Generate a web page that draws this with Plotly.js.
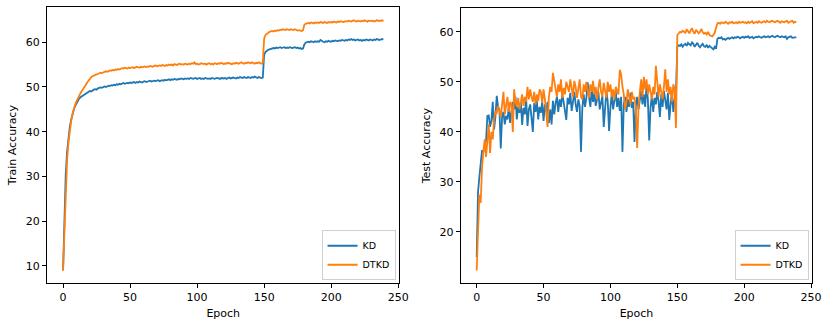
<!DOCTYPE html>
<html>
<head>
<meta charset="utf-8">
<script src="https://cdn.plot.ly/plotly-3.0.1.min.js"></script>
<style>
  html, body { margin: 0; padding: 0; background: #fff; }
  #myDiv { width: 831px; height: 327px; }
</style>
</head>
<body>
<div id="myDiv"></div>
<script>
// train accuracy per epoch (0..239)
var trainKD = [
  9.0, 22.0, 30.5, 35.5, 38.8, 41.0, 42.6, 43.9, 44.9, 45.7,
  46.4, 46.9, 47.4, 47.7, 47.9, 48.2, 48.3, 48.6, 48.8, 48.9,
  49.1, 49.0, 49.3, 49.4, 49.5, 49.4, 49.7, 49.8, 49.9, 49.8,
  50.0, 50.1, 50.0, 50.2, 50.3, 50.2, 50.4, 50.3, 50.5, 50.4,
  50.6, 50.5, 50.7, 50.6, 50.8, 50.9, 50.7, 50.8, 50.9, 50.8,
  51.0, 50.9, 51.0, 51.1, 50.9, 51.1, 51.0, 51.2, 51.1, 51.0,
  51.2, 51.3, 51.1, 51.2, 51.3, 51.4, 51.2, 51.3, 51.4, 51.3,
  51.4, 51.5, 51.3, 51.4, 51.5, 51.4, 51.6, 51.5, 51.6, 51.7,
  51.5, 51.7, 51.6, 51.8, 51.7, 51.6, 51.8, 51.7, 51.9, 51.8,
  51.7, 51.9, 51.8, 51.9, 51.8, 52.0, 51.9, 51.8, 51.9, 52.0,
  51.8, 51.9, 52.0, 51.8, 51.9, 51.8, 52.0, 51.9, 51.8, 51.9,
  51.8, 52.0, 51.9, 51.8, 51.9, 52.0, 51.9, 51.8, 52.0, 51.9,
  51.9, 52.0, 51.8, 52.0, 52.1, 51.9, 52.0, 52.1, 52.0, 51.9,
  52.1, 52.0, 52.2, 52.1, 52.0, 52.2, 52.1, 52.0, 52.2, 52.1,
  52.0, 52.2, 52.1, 52.3, 52.1, 52.0, 52.2, 52.1, 52.0, 52.1,
  57.2, 57.8, 58.1, 58.3, 58.4, 58.5, 58.6, 58.7, 58.6, 58.8,
  58.7, 58.8, 58.9, 58.7, 58.8, 58.9, 58.7, 58.8, 58.7, 58.9,
  58.8, 58.7, 58.8, 58.9, 58.7, 58.8, 58.6, 58.7, 58.5, 58.6,
  59.5, 59.9, 60.0, 60.1, 60.0, 60.2, 60.1, 60.0, 60.2, 60.1,
  60.2, 60.1, 60.5, 60.2, 60.1, 60.0, 60.2, 60.1, 60.3, 60.2,
  60.1, 60.3, 60.2, 60.4, 60.3, 60.2, 60.4, 60.3, 60.5, 60.4,
  60.3, 60.5, 60.4, 60.6, 60.5, 60.7, 60.5, 60.6, 60.4, 60.5,
  60.6, 60.4, 60.5, 60.3, 60.5, 60.4, 60.6, 60.5, 60.4, 60.6,
  60.5, 60.4, 60.6, 60.5, 60.7, 60.6, 60.5, 60.6, 60.7, 60.6
];

var trainDTKD = [
  9.0, 18.5, 27.5, 33.5, 37.5, 40.3, 42.3, 43.9, 45.1, 46.0,
  46.8, 47.5, 48.1, 48.6, 49.1, 49.5, 50.0, 50.5, 51.0, 51.5,
  51.9, 52.2, 52.4, 52.6, 52.7, 52.8, 52.9, 53.0, 53.2, 53.1,
  53.3, 53.4, 53.5, 53.4, 53.6, 53.7, 53.6, 53.8, 53.7, 53.9,
  53.8, 54.0, 53.9, 54.1, 54.2, 54.1, 54.3, 54.2, 54.1, 54.3,
  54.2, 54.3, 54.4, 54.2, 54.3, 54.5, 54.4, 54.3, 54.5, 54.4,
  54.5, 54.6, 54.4, 54.6, 54.5, 54.7, 54.6, 54.5, 54.7, 54.8,
  54.6, 54.7, 54.8, 54.7, 54.9, 54.8, 54.7, 54.9, 54.8, 55.0,
  54.9, 55.0, 54.8, 55.1, 55.0, 54.9, 55.1, 55.2, 55.0, 55.1,
  55.0, 55.2, 55.1, 55.0, 55.2, 55.1, 55.3, 55.2, 55.5, 55.1,
  55.2, 55.0, 55.1, 55.3, 55.2, 55.1, 55.2, 55.0, 55.2, 55.3,
  55.1, 55.2, 55.0, 55.3, 55.2, 55.1, 55.3, 55.2, 55.4, 55.2,
  55.1, 55.3, 55.2, 55.4, 55.3, 55.2, 55.1, 55.3, 55.2, 55.4,
  55.3, 55.2, 55.4, 55.5, 55.3, 55.2, 55.4, 55.3, 55.5, 55.4,
  55.3, 55.5, 55.4, 55.2, 55.4, 55.3, 55.5, 55.3, 55.2, 55.4,
  60.8, 61.6, 61.9, 62.1, 62.3, 62.4, 62.5, 62.4, 62.6, 62.5,
  62.7, 62.6, 62.8, 62.7, 62.9, 62.8, 62.7, 62.9, 62.8, 62.7,
  62.9, 62.8, 62.7, 62.9, 62.8, 62.6, 62.7, 62.6, 62.5, 62.7,
  63.9, 64.1, 64.2, 64.3, 64.2, 64.4, 64.3, 64.2, 64.4, 64.3,
  64.4, 64.3, 64.5, 64.4, 64.3, 64.5, 64.4, 64.3, 64.5, 64.4,
  64.5, 64.4, 64.6, 64.5, 64.4, 64.6, 64.5, 64.7, 64.6, 64.5,
  64.6, 64.7, 64.6, 64.8, 64.7, 64.6, 64.8, 64.9, 64.7, 64.6,
  64.8, 64.7, 64.6, 64.8, 64.7, 64.9, 64.7, 64.6, 64.8, 64.7,
  64.7, 64.8, 64.6, 64.7, 64.9, 64.8, 64.7, 64.8, 64.9, 64.7
];

// test accuracy per epoch (0..239)
var testKD = [
  15.0, 28.0, 31.0, 33.5, 36.3, 36.0, 37.5, 38.2, 43.2, 43.3,
  41.0, 42.2, 46.0, 40.5, 43.0, 47.2, 45.0, 44.5, 36.7, 43.0,
  44.0, 41.5, 43.2, 42.5, 45.0, 41.8, 44.0, 46.0, 44.5, 47.0,
  42.5, 45.0, 43.8, 46.0, 41.4, 44.8, 43.5, 46.5, 41.2, 44.5,
  45.5, 43.0, 40.0, 45.8, 44.0, 46.2, 42.5, 45.0, 43.8, 46.0,
  42.2, 45.5, 44.0, 46.0, 41.8, 44.5, 41.5, 46.2, 43.5, 45.8,
  47.0, 44.0, 46.5, 45.0, 47.5, 46.0, 44.5, 42.4, 46.8, 45.5,
  47.8, 44.2, 46.0, 48.0, 45.5, 44.0, 46.5, 45.2, 36.0, 44.8,
  47.5, 45.0, 46.8, 49.9, 47.0, 45.0, 48.5, 46.0, 47.8, 45.2,
  46.5, 48.0, 44.5, 46.0, 47.2, 41.0, 45.5, 48.2, 46.0, 40.2,
  45.0, 47.5, 44.5, 46.2, 48.0, 45.0, 46.8, 44.2, 47.0, 36.0,
  45.5, 47.0, 44.0, 46.5, 45.0, 47.8, 44.8, 46.0, 38.0, 45.2,
  47.0, 44.5, 46.8, 48.2, 45.5, 47.5, 45.0, 49.3, 46.5, 38.3,
  45.0, 47.2, 44.0, 46.8, 45.5, 48.0, 46.2, 43.0, 47.5, 45.0,
  48.2, 46.0, 44.5, 47.8, 42.4, 45.5, 48.0, 44.0, 46.5, 47.5,
  57.0, 57.3, 57.2, 57.5, 57.0, 57.4, 57.6, 57.2, 57.8, 57.5,
  57.3, 57.9, 57.6, 57.0, 57.4, 57.8, 57.2, 56.9, 57.3, 57.6,
  57.1, 57.0, 57.4, 56.8, 57.2, 56.9, 56.7, 56.5, 57.0, 56.6,
  58.6, 58.8, 58.7, 58.9, 58.5, 58.6, 58.4, 58.7, 58.8, 58.6,
  58.8, 58.9, 58.7, 58.9, 58.8, 59.0, 58.9, 58.7, 58.9, 59.0,
  58.8, 59.0, 58.9, 59.1, 58.8, 58.9, 59.0, 58.7, 58.9, 59.0,
  58.9, 59.1, 58.9, 58.8, 59.0, 59.1, 58.9, 59.0, 59.1, 58.9,
  59.0, 59.2, 59.0, 58.9, 59.1, 59.2, 59.0, 58.9, 59.1, 59.0,
  58.9, 59.1, 58.6, 58.9, 59.0, 59.1, 58.8, 58.9, 58.9, 58.9
];

var testDTKD = [
  12.3, 22.0, 27.5, 25.8, 33.0, 36.0, 38.5, 35.0, 38.0, 41.5,
  35.8, 40.0, 38.5, 42.5, 44.0, 43.8, 45.2, 44.0, 43.0, 45.5,
  48.0, 43.5, 45.5, 47.0, 44.0, 46.0, 45.5, 40.0, 48.5, 46.0,
  45.0, 46.8, 44.5, 46.0, 47.5, 45.2, 47.0, 46.0, 49.0, 46.5,
  48.5, 47.0, 46.0, 48.0, 45.5, 47.5, 46.2, 48.5, 48.0, 45.8,
  48.5, 46.5, 43.5, 41.0, 47.0, 49.0, 48.0, 51.8, 50.2, 48.5,
  47.0, 49.5, 48.0, 50.5, 46.8, 48.8, 47.5, 50.0, 49.0, 48.0,
  50.5, 48.5, 47.0, 50.2, 49.0, 46.8, 48.5, 50.5, 47.0, 46.5,
  49.5, 48.0, 50.0, 48.5, 46.8, 49.5, 48.0, 50.2, 47.5, 49.0,
  46.5, 48.8, 50.5, 48.0, 47.0, 49.8, 48.5, 46.8, 50.0, 48.0,
  49.5, 47.0, 48.5, 46.5, 49.0, 48.0, 47.5, 52.4, 51.5, 49.0,
  47.5, 44.5, 46.0, 48.5, 47.0, 45.5, 48.0, 46.5, 47.0, 44.5,
  36.8, 45.0, 48.0, 50.5, 47.0, 51.0, 48.5, 50.5, 47.5, 49.5,
  48.0, 46.5, 49.0, 47.5, 53.2, 50.0, 47.0, 49.5, 48.0, 46.5,
  49.0, 52.5, 48.0, 50.5, 47.5, 49.0, 46.0, 49.5, 48.5, 40.8,
  59.3, 59.8, 60.0, 59.9, 60.2, 60.0, 59.8, 60.5, 60.1, 59.7,
  60.3, 60.7, 60.0, 59.6, 60.4, 60.1, 59.7, 60.0, 60.6, 59.9,
  59.6, 59.8, 59.5, 60.0, 59.4, 59.2, 59.1, 59.4, 59.8, 60.8,
  61.7, 61.8, 61.6, 61.9, 61.8, 61.7, 62.0, 61.8, 61.6, 61.9,
  61.8, 62.0, 61.7, 61.8, 61.9, 61.7, 62.0, 61.8, 61.9, 62.0,
  61.8, 61.9, 61.7, 62.0, 61.8, 61.9, 62.1, 61.7, 61.9, 62.0,
  61.8, 62.1, 61.9, 61.8, 62.0, 62.1, 61.9, 62.2, 62.0, 61.9,
  62.1, 62.2, 62.0, 61.9, 62.1, 62.2, 62.0, 61.8, 62.1, 62.0,
  61.9, 62.1, 62.2, 61.8, 62.0, 62.1, 62.2, 61.8, 62.0, 61.9
];

var epochs = trainKD.map(function (_, i) { return i; });
var xTicks = [0, 50, 100, 150, 200, 250];

var blue = '#1f77b4';
var orange = '#ff7f0e';

var data = [
  { x: epochs, y: trainKD, name: 'KD', type: 'scatter', mode: 'lines',
    line: { color: blue, width: 1.8 }, xaxis: 'x', yaxis: 'y', legend: 'legend' },
  { x: epochs, y: trainDTKD, name: 'DTKD', type: 'scatter', mode: 'lines',
    line: { color: orange, width: 1.8 }, xaxis: 'x', yaxis: 'y', legend: 'legend' },
  { x: epochs, y: testKD, name: 'KD', type: 'scatter', mode: 'lines',
    line: { color: blue, width: 1.8 }, xaxis: 'x2', yaxis: 'y2', legend: 'legend2' },
  { x: epochs, y: testDTKD, name: 'DTKD', type: 'scatter', mode: 'lines',
    line: { color: orange, width: 1.8 }, xaxis: 'x2', yaxis: 'y2', legend: 'legend2' }
];

var axisStyle = {
  showline: true, mirror: true, linecolor: '#000', linewidth: 1,
  showgrid: false, zeroline: false,
  ticks: 'outside', ticklen: 4, tickwidth: 1, tickcolor: '#000',
  tickfont: { size: 11, color: '#000' }
};

function ax(extra) {
  return Object.assign({}, axisStyle, extra);
}

var legendStyle = {
  bgcolor: 'rgba(255,255,255,0.9)', bordercolor: '#d0d0d0', borderwidth: 1,
  font: { size: 9.5, color: '#000' }, xanchor: 'right', yanchor: 'bottom',
  itemwidth: 30, tracegroupgap: 0
};

var layout = {
  width: 831, height: 327,
  margin: { l: 0, r: 0, t: 0, b: 0 },
  paper_bgcolor: '#fff', plot_bgcolor: '#fff',
  font: { family: 'DejaVu Sans, sans-serif', color: '#000' },
  showlegend: true,
  xaxis: ax({ domain: [0.0566, 0.4807], range: [-11.95, 250.95], tickvals: xTicks,
    anchor: 'y', title: { text: 'Epoch', font: { size: 11 }, standoff: 6 } }),
  yaxis: ax({ domain: [0.1346, 0.9777], range: [6.2, 67.8], tickvals: [10, 20, 30, 40, 50, 60],
    anchor: 'x', title: { text: 'Train Accuracy', font: { size: 11 }, standoff: 6 } }),
  xaxis2: ax({ domain: [0.5544, 0.9775], range: [-11.95, 250.95], tickvals: xTicks,
    anchor: 'y2', title: { text: 'Epoch', font: { size: 11 }, standoff: 6 } }),
  yaxis2: ax({ domain: [0.1346, 0.9746], range: [9.8, 64.7], tickvals: [20, 30, 40, 50, 60],
    anchor: 'x2', title: { text: 'Test Accuracy', font: { size: 11 }, standoff: 6 } }),
  legend: Object.assign({}, legendStyle, { x: 0.476, y: 0.143 }),
  legend2: Object.assign({}, legendStyle, { x: 0.973, y: 0.143 })
};

Plotly.newPlot('myDiv', data, layout, { staticPlot: true, displayModeBar: false });
</script>
</body>
</html>
